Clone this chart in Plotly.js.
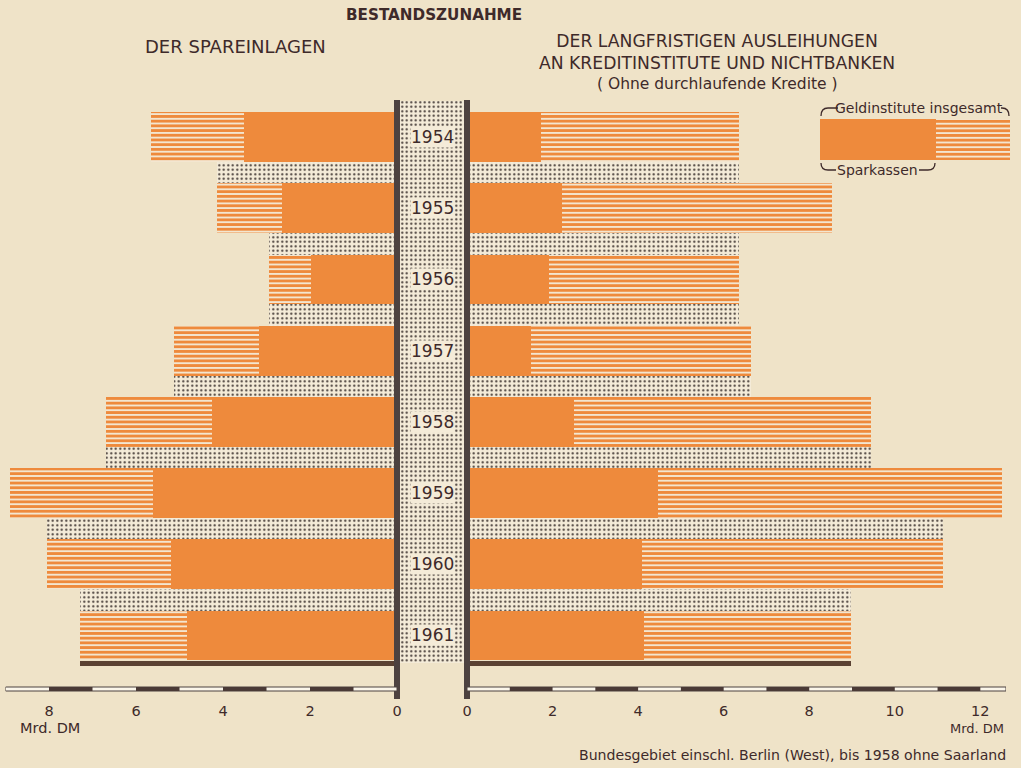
<!DOCTYPE html>
<html>
<head>
<meta charset="utf-8">
<script src="https://cdn.plot.ly/plotly-3.0.1.min.js"></script>
<style>html,body{margin:0;padding:0;background:#efe3c8;}#chart{width:1021px;height:768px;}</style>
</head>
<body>
<div id="chart"></div>
<script>
// ---- data (Mrd. DM) ----
const years = ['1954','1955','1956','1957','1958','1959','1960','1961'];
// Bestandszunahme der Spareinlagen
const sparTotal = [5.66, 4.14, 2.94, 5.13, 6.69, 8.90, 8.05, 7.29];   // Geldinstitute insgesamt
const sparSpk   = [3.52, 2.64, 1.98, 3.17, 4.25, 5.61, 5.20, 4.83];   // Sparkassen
// Bestandszunahme der langfristigen Ausleihungen
const ausTotal  = [6.37, 8.53, 6.35, 6.65, 9.44, 12.51, 11.12, 8.98];
const ausSpk    = [1.72, 2.23, 1.91, 1.49, 2.51, 4.47, 4.09, 4.14];
const leftTicks  = [0, 2, 4, 6, 8];
const rightTicks = [0, 2, 4, 6, 8, 10, 12];
const legendSample = {spk: 1.16, total: 1.9};

// ---- styles ----
const BG = '#efe3c8', CREAM = '#f4ebd8', ORANGE = '#ee8a3c', DARK = '#3e2a2a', LINE = '#4d4240', DOT = '#3f3531';
const FONT = '"DejaVu Sans", "Noto Sans", sans-serif';
const W = 1021, H = 768;
const px = v => v / W, py = v => 1 - v / H;

const idx = years.map((_, i) => i);
const stripe = {shape: '-', fgcolor: ORANGE, bgcolor: CREAM, size: 4.7, solidity: 0.62, fillmode: 'replace'};
const dots = {shape: '.', fgcolor: DOT, bgcolor: CREAM, size: 4.5, solidity: 0.18, fillmode: 'replace'};

// shadow (dotted) bands between bars: the overlapping part of neighbouring bars
const shadow = (arr) => arr.slice(0, -1).map((v, i) => Math.min(v, arr[i + 1]));
const shadowY = idx.slice(0, -1).map(i => i + 0.5);

function sideTraces(total, spk, xa) {
  return [
    {type: 'bar', orientation: 'h', x: shadow(total), y: shadowY, width: 0.3, xaxis: xa, yaxis: 'y',
     marker: {color: CREAM, pattern: dots, line: {width: 0}}, hoverinfo: 'skip'},
    {type: 'bar', orientation: 'h', x: [total[total.length - 1]], y: [idx.length - 1 + 0.393], width: 0.07, xaxis: xa, yaxis: 'y',
     marker: {color: '#5b4233', line: {width: 0}}, hoverinfo: 'skip'},
    {type: 'bar', orientation: 'h', x: total, y: idx, width: 0.7, xaxis: xa, yaxis: 'y', name: 'Geldinstitute insgesamt',
     marker: {color: CREAM, pattern: stripe, line: {width: 0}}},
    {type: 'bar', orientation: 'h', x: spk, y: idx, width: 0.7, xaxis: xa, yaxis: 'y', name: 'Sparkassen',
     marker: {color: ORANGE, line: {width: 0}}}
  ];
}

const traces = [
  ...sideTraces(sparTotal, sparSpk, 'x'),
  ...sideTraces(ausTotal, ausSpk, 'x2'),
  // centre strip (dotted)
  {type: 'bar', orientation: 'h', x: idx.map(() => 1), y: idx, width: idx.map((_, i) => i === idx.length - 1 ? 0.88 : 1),
   offset: -0.5, xaxis: 'x3', yaxis: 'y', marker: {color: CREAM, pattern: dots, line: {width: 0}}, hoverinfo: 'skip'},
  // legend sample
  {type: 'bar', orientation: 'h', x: [legendSample.total], y: [0], width: 1, xaxis: 'x4', yaxis: 'y2',
   marker: {color: CREAM, pattern: stripe, line: {width: 0}}, hoverinfo: 'skip'},
  {type: 'bar', orientation: 'h', x: [legendSample.spk], y: [0], width: 1, xaxis: 'x4', yaxis: 'y2',
   marker: {color: ORANGE, line: {width: 0}}, hoverinfo: 'skip'}
];

const yTop = -0.52, yBot = 7.906;
const axBase = {showgrid: false, zeroline: false, showline: false, ticks: '', fixedrange: true};
const tickFont = {family: FONT, size: 14.5, color: DARK};

const shapes = [];
// vertical dark lines
[[394, 400], [464, 470]].forEach(([a, b]) => shapes.push({type: 'rect', xref: 'paper', yref: 'paper',
  x0: px(a), x1: px(b), y0: py(699), y1: py(100), fillcolor: LINE, line: {width: 0}, layer: 'above'}));
// rulers
const rY0 = py(691), rY1 = py(687);
function ruler(xref, maxV) {
  shapes.push({type: 'rect', xref: xref, yref: 'paper', x0: 0, x1: maxV, y0: rY0, y1: rY1, fillcolor: '#fbf6ea', line: {color: LINE, width: 1}});
  for (let k = 1; k + 1 <= maxV; k += 2) {
    shapes.push({type: 'rect', xref: xref, yref: 'paper', x0: k, x1: k + 1, y0: rY0, y1: rY1, fillcolor: '#4a3a36', line: {width: 0}});
  }
}
ruler('x', 9);
ruler('x2', 12.6);
// legend brackets (line pieces on both sides of the labels)
const bracket = (xa, xb, yLine, yEnd) => shapes.push({type: 'path', xref: 'paper', yref: 'paper', line: {color: DARK, width: 1.3},
  path: `M ${px(xa)} ${py(yEnd)} Q ${px(xa)} ${py(yLine)} ${px(xa + 7)} ${py(yLine)} L ${px(xb)} ${py(yLine)}`});
const bracketR = (xa, xb, yLine, yEnd) => shapes.push({type: 'path', xref: 'paper', yref: 'paper', line: {color: DARK, width: 1.3},
  path: `M ${px(xa)} ${py(yLine)} L ${px(xb - 7)} ${py(yLine)} Q ${px(xb)} ${py(yLine)} ${px(xb)} ${py(yEnd)}`});
bracket(821, 838, 108, 116);  bracketR(1001, 1009, 108, 116);
bracket(821, 836, 170, 163);  bracketR(919, 935, 170, 163);

const ann = [];
years.forEach((yr, i) => ann.push({xref: 'x3', yref: 'y', x: 0.5, y: i, text: yr, showarrow: false,
  font: {family: FONT, size: 17, color: DARK}, bgcolor: CREAM, borderpad: 0}));
const txt = (x, y, text, size, opts = {}) => ann.push(Object.assign({xref: 'paper', yref: 'paper', x: px(x), y: py(y),
  text, showarrow: false, font: {family: FONT, size, color: DARK}, xanchor: 'center', yanchor: 'middle'}, opts));
txt(434, 15, '<b>BESTANDSZUNAHME</b>', 15.2);
txt(235, 47, 'DER SPAREINLAGEN', 18);
txt(717, 52, 'DER LANGFRISTIGEN AUSLEIHUNGEN<br>AN KREDITINSTITUTE UND NICHTBANKEN', 17.2);
txt(717, 84, '( Ohne durchlaufende Kredite )', 15.5);
txt(919, 108, 'Geldinstitute insgesamt', 14);
txt(877, 170, 'Sparkassen', 14);
txt(50, 728, 'Mrd. DM', 14.5);
txt(977, 728, 'Mrd. DM', 13);
txt(1008, 755, 'Bundesgebiet einschl. Berlin (West), bis 1958 ohne Saarland', 14.1, {xanchor: 'right'});

const layout = {
  width: W, height: H, margin: {l: 0, r: 0, t: 0, b: 0},
  paper_bgcolor: BG, plot_bgcolor: 'rgba(0,0,0,0)', showlegend: false, barmode: 'overlay', bargap: 0,
  xaxis: Object.assign({}, axBase, {domain: [px(5.5), px(397)], range: [9, 0], tickvals: leftTicks, anchor: 'y', tickfont: tickFont}),
  xaxis2: Object.assign({}, axBase, {domain: [px(467), px(1006)], range: [0, 12.6], tickvals: rightTicks, anchor: 'y', tickfont: tickFont}),
  xaxis3: Object.assign({}, axBase, {domain: [px(400), px(464)], range: [0, 1], showticklabels: false, anchor: 'y'}),
  xaxis4: Object.assign({}, axBase, {domain: [px(820), px(1010)], range: [0, legendSample.total], showticklabels: false, anchor: 'y2'}),
  yaxis: Object.assign({}, axBase, {domain: [py(700), py(100)], range: [yBot, yTop], showticklabels: false, anchor: 'x'}),
  yaxis2: Object.assign({}, axBase, {domain: [py(160), py(119)], range: [-0.5, 0.5], showticklabels: false, anchor: 'x4'}),
  shapes, annotations: ann
};

Plotly.newPlot('chart', traces, layout, {staticPlot: true, displayModeBar: false});
</script>
</body>
</html>
